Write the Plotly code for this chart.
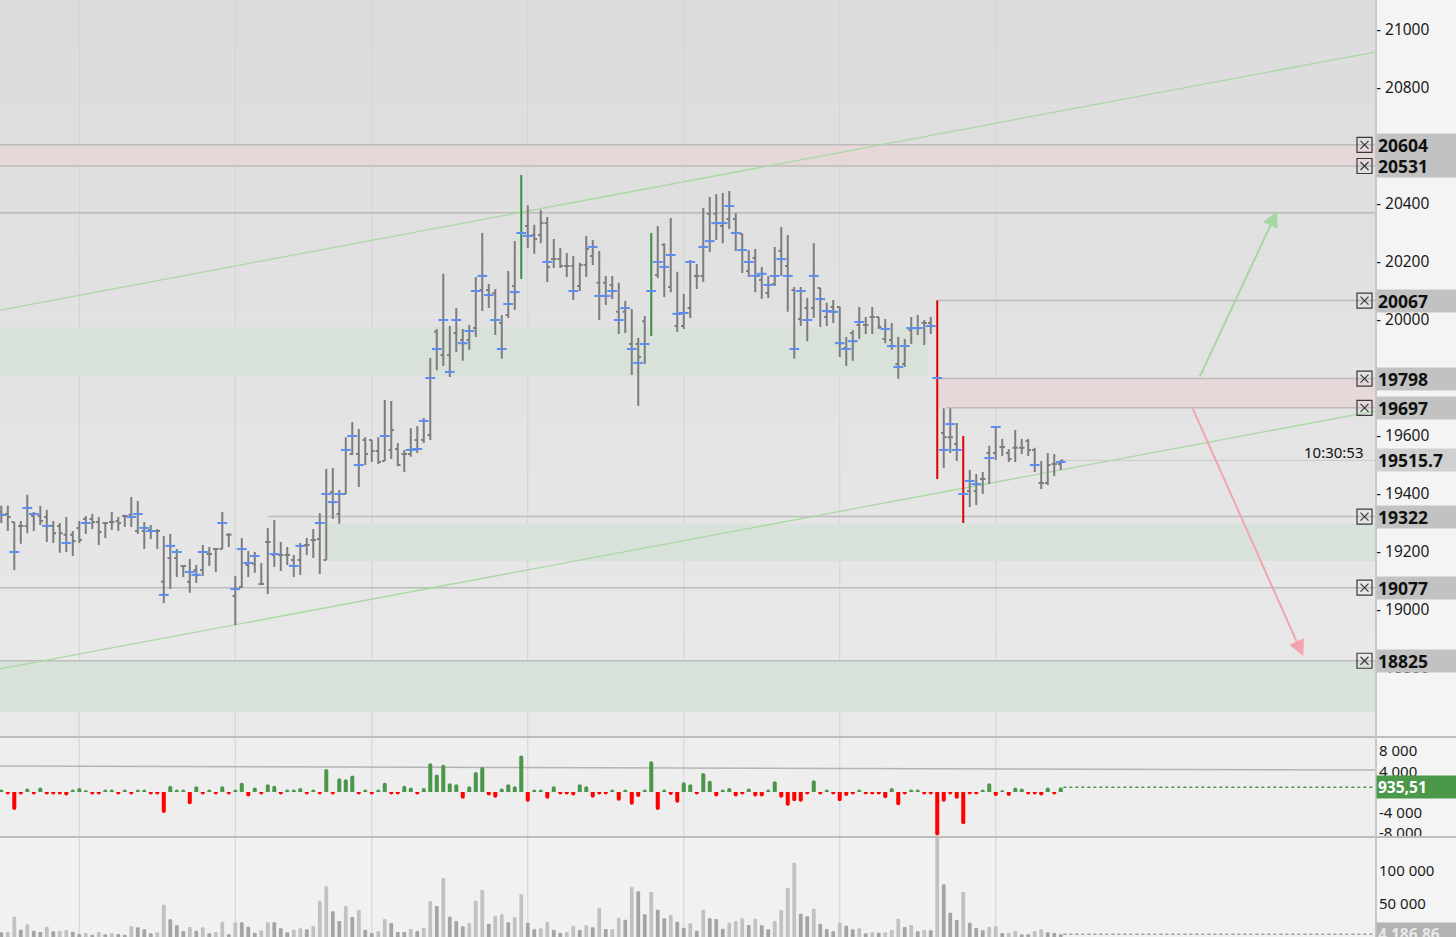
import plotly.graph_objects as go

# ---------------- data ----------------
highs = [
    19359, 19359, 19303, 19307, 19397, 19338, 19359, 19345, 19307, 19300,
    19321, 19272, 19307, 19324, 19331, 19321, 19303, 19338, 19321, 19328,
    19390, 19376, 19303, 19293, 19279, 19255, 19262, 19210, 19155, 19176,
    19155, 19224, 19217, 19210, 19338, 19265, 19117, 19248, 19203, 19200,
    19162, 19283, 19310, 19234, 19217, 19190, 19231, 19248, 19279, 19334,
    19486, 19490, 19414, 19596, 19648, 19624, 19596, 19586, 19596, 19724,
    19721, 19576, 19552, 19627, 19634, 19662, 19869, 19969, 20159, 19979,
    20041, 19969, 19983, 20148, 20300, 20124, 20107, 20017, 20169, 20272,
    20500, 20396, 20328, 20379, 20355, 20279, 20248, 20231, 20221, 20197,
    20290, 20276, 20238, 20152, 20152, 20128, 20066, 20038, 19938, 20014,
    20300, 20324, 20265, 20352, 20166, 20090, 20207, 20193, 20386, 20424,
    20434, 20438, 20445, 20369, 20297, 20241, 20245, 20183, 20152, 20252,
    20321, 20293, 20114, 20114, 20076, 20265, 20110, 20059, 20069, 20045,
    19941, 19965, 20045, 20010, 20045, 20010, 20003, 19990, 19941, 19934,
    20010, 20017, 20000, 20010, 20067, 19696, 19696, 19645, 19600, 19483,
    19469, 19476, 19566, 19634, 19590, 19555, 19621, 19590, 19590, 19559,
    19514, 19541, 19538, 19517]

lows = [
    19300, 19272, 19138, 19228, 19265, 19272, 19293, 19234, 19231, 19197,
    19200, 19186, 19231, 19262, 19279, 19224, 19248, 19276, 19272, 19286,
    19286, 19262, 19210, 19245, 19210, 19024, 19072, 19114, 19114, 19059,
    19093, 19117, 19152, 19131, 19210, 19217, 18948, 19076, 19114, 19128,
    19086, 19055, 19148, 19134, 19155, 19114, 19121, 19190, 19179, 19124,
    19172, 19314, 19297, 19400, 19534, 19424, 19500, 19510, 19503, 19514,
    19521, 19496, 19476, 19528, 19541, 19576, 19586, 19827, 19841, 19803,
    19890, 19859, 19897, 19941, 20031, 20041, 19948, 19866, 20007, 20034,
    20141, 20248, 20228, 20265, 20131, 20179, 20179, 20148, 20069, 20100,
    20148, 20190, 20000, 20052, 20072, 19952, 19955, 19810, 19703, 19848,
    19945, 20145, 20079, 20096, 19959, 19969, 20007, 20107, 20131, 20234,
    20276, 20265, 20314, 20238, 20162, 20148, 20096, 20072, 20076, 20117,
    20152, 20028, 19866, 19979, 19927, 20007, 19976, 19979, 19990, 19872,
    19841, 19859, 19934, 19952, 19952, 19969, 19920, 19897, 19797, 19838,
    19917, 19948, 19914, 19952, 19452, 19490, 19541, 19514, 19300, 19355,
    19362, 19400, 19434, 19517, 19531, 19510, 19510, 19538, 19531, 19476,
    19417, 19431, 19462, 19483]

opens = [
    19338, 19331, 19303, 19290, 19290, 19324, 19324, 19321, 19290, 19290,
    19259, 19259, 19283, 19314, 19314, 19303, 19300, 19303, 19307, 19324,
    19328, 19272, 19272, 19276, 19272, 19097, 19179, 19179, 19152, 19097,
    19138, 19138, 19193, 19210, 19210, 19259, 19048, 19079, 19155, 19159,
    19090, 19234, 19190, 19190, 19190, 19172, 19172, 19224, 19241, 19245,
    19172, 19407, 19331, 19400, 19538, 19538, 19586, 19586, 19548, 19514,
    19552, 19555, 19538, 19538, 19586, 19586, 19603, 19959, 19879, 19879,
    19955, 19931, 19931, 19972, 20103, 20103, 20093, 19990, 20017, 20117,
    20214, 20324, 20293, 20293, 20334, 20210, 20210, 20186, 20186, 20117,
    20190, 20221, 20128, 20128, 20121, 20028, 20028, 19917, 19917, 19996,
    19996, 20155, 20259, 20114, 19979, 19979, 20041, 20152, 20152, 20366,
    20366, 20324, 20348, 20348, 20297, 20169, 20214, 20138, 20093, 20124,
    20238, 20186, 20103, 20003, 20041, 20041, 20110, 20010, 20045, 20045,
    19903, 19955, 19983, 19983, 20010, 20010, 19934, 19931, 19848, 19848,
    19965, 19972, 19990, 19990, 19990, 19610, 19596, 19572, 19572, 19410,
    19410, 19452, 19541, 19541, 19562, 19541, 19559, 19559, 19583, 19552,
    19438, 19438, 19503, 19503]

closes = [
    19328, 19321, 19200, 19290, 19352, 19331, 19307, 19290, 19265, 19265,
    19231, 19238, 19241, 19300, 19303, 19269, 19300, 19303, 19300, 19324,
    19321, 19331, 19283, 19272, 19272, 19052, 19221, 19200, 19152, 19131,
    19121, 19200, 19193, 19210, 19300, 19259, 19072, 19210, 19162, 19186,
    19090, 19234, 19193, 19190, 19190, 19152, 19221, 19224, 19241, 19300,
    19400, 19372, 19400, 19552, 19600, 19500, 19538, 19548, 19510, 19600,
    19621, 19500, 19538, 19552, 19555, 19652, 19800, 19900, 20000, 19821,
    20000, 19920, 19962, 20100, 20152, 20086, 20000, 19900, 20055, 20096,
    20324, 20290, 20279, 20334, 20183, 20210, 20186, 20186, 20100, 20190,
    20245, 20252, 20083, 20083, 20100, 20000, 20041, 19900, 19872, 19917,
    20228, 20200, 20183, 20224, 20021, 20024, 20200, 20152, 20252, 20272,
    20334, 20334, 20393, 20300, 20241, 20200, 20152, 20159, 20121, 20152,
    20210, 20152, 19900, 20100, 20000, 20152, 20072, 20031, 20028, 19920,
    19900, 19927, 19993, 19983, 20010, 19976, 19969, 19910, 19838, 19910,
    19972, 19972, 19990, 19979, 19610, 19596, 19596, 19552, 19400, 19445,
    19434, 19452, 19524, 19631, 19562, 19521, 19559, 19559, 19552, 19500,
    19438, 19500, 19503, 19515.7]

poc = [
    19328, None, 19200, None, 19352, 19331, None, 19290, None, None,
    19231, None, None, 19300, None, None, None, None, None, None,
    19321, 19331, 19283, 19272, None, 19052, 19221, 19200, None, 19131,
    19121, 19200, None, None, 19300, None, 19072, 19210, 19162, 19186,
    None, None, 19193, None, None, 19152, 19221, None, None, 19300,
    19400, 19372, 19400, 19552, 19600, 19500, None, None, None, 19600,
    None, None, None, 19552, 19555, 19652, 19800, 19900, 20000, 19821,
    20000, 19920, 19962, 20100, 20152, 20086, 20000, 19900, 20055, 20096,
    20300, 20290, None, None, 20200, None, None, None, 20100, None,
    None, 20252, 20083, 20083, 20100, 20000, 20041, 19900, 19852, 19917,
    20100, 20200, 20183, 20224, 20021, 20024, 20200, None, 20252, 20272,
    20334, 20334, 20393, 20300, 20241, 20200, 20152, 20159, 20121, 20152,
    20210, 20152, 19900, 20100, 20000, 20152, 20072, 20031, 20028, 19920,
    19900, 19927, 19993, None, None, None, 19969, 19910, 19838, 19910,
    19972, 19972, None, 19979, 19800, 19552, 19641, 19552, 19400, 19445,
    19434, None, 19524, 19631, None, None, None, None, None, 19500,
    None, None, None, 19510]

delta = [
    500, -500, -3500, -500, 700, -500, 900, -500, -500, -500,
    -700, 500, 800, 400, -500, -500, 500, 500, -500, 500,
    -500, 500, 500, -500, -500, -4100, 1200, 500, 500, -2400,
    1100, -500, 500, -500, 1100, -500, 500, 1800, -900, 900,
    -500, 1500, 1200, -500, 500, 500, 800, -500, 500, -500,
    4500, -500, 2700, 2500, 3200, -500, 500, -500, 500, 1800,
    -500, -500, 1200, 900, -500, 800, 5600, 3400, 5300, 1700,
    1500, -1300, 1100, 3900, 4900, -700, -1100, 700, 1500, 1100,
    7100, -1900, 500, 500, -1300, 1100, -500, -500, -700, 1500,
    1100, -1100, -500, -500, 500, -1700, 500, -2500, -1000, 500,
    6000, -3500, 500, -600, -2100, 1900, 1500, -500, 3700, 2200,
    -900, 500, 800, -900, -500, 700, -900, -900, 500, 2100,
    -1100, -2700, -1800, -1900, -500, 2300, -500, 500, -500, -1800,
    -800, -500, 500, -500, -500, -500, -1200, 800, -2600, -500,
    500, 500, -500, -500, -8500, -1900, -500, -1300, -6300, -500,
    -500, 500, 1700, -800, 400, -800, 900, 700, -500, -500,
    -700, 900, -500, 935.51]

volume = [
    7070, 7575, 30800, 11110, 19190, 9595, 7575, 15655, 8585, 9090,
    10605, 8080, 4545, 6060, 3535, 7575, 4040, 5555, 4545, 3535,
    16160, 14645, 11615, 5555, 7070, 48985, 26765, 17675, 9090, 15150,
    9595, 14645, 5555, 7070, 23230, 4040, 22220, 22220, 15655, 6565,
    10100, 22220, 22220, 13130, 7070, 11110, 13130, 11615, 16665, 55045,
    76760, 38885, 24240, 46965, 30300, 40905, 11110, 6060, 8585, 27270,
    21210, 7575, 7575, 12120, 9090, 13635, 54035, 46965, 89385, 30805,
    24240, 16160, 21210, 55045, 71205, 20200, 32320, 34340, 22220, 29795,
    64640, 21715, 11615, 13130, 23230, 11110, 6565, 7575, 17170, 10605,
    17675, 14645, 44440, 12120, 12300, 29290, 26260, 76255, 69185, 34340,
    68175, 41410, 28280, 33835, 23230, 14140, 20705, 9595, 41410, 28280,
    27270, 12625, 21715, 24240, 28280, 18180, 27775, 17675, 11615, 24240,
    40905, 74740, 112615, 35350, 31310, 42925, 20200, 12120, 8585, 21715,
    17170, 11615, 13130, 5555, 7070, 6565, 7070, 10605, 27775, 15150,
    18180, 8585, 10605, 10100, 155000, 79790, 36865, 25755, 68175, 21715,
    13635, 10100, 15655, 16665, 6060, 6565, 9595, 4040, 4040, 9090,
    11615, 7070, 6060, 4186.86]

up_highlight = [80, 100]
down_highlight = [144, 148]

levels = [20604, 20531, 20067, 19798, 19697, 19322, 19077, 18825]
level_start = [-0.2, -0.2, 144, 144, 145.3, 41, -0.2, -0.2]
plain_level = 20370
last_price = 19515.7
last_time = "10:30:53"
last_delta_text = "935,51"
last_volume_text = "4 186,86"

red_zones = [(-0.2, 211.35, 20531, 20604), (144, 211.35, 19697, 19798)]
green_zones = [(-0.2, 142.6, 19807, 19976), (49.5, 211.35, 19169, 19297),
               (-0.2, 211.35, 18648, 18825)]
channel_upper = ((-0.2, 20034), (211.35, 20924))
channel_lower = ((-0.2, 18797), (211.35, 19686))
arrow_up = ((184.3, 19800), (196.3, 20376))
arrow_down = ((183.2, 19700), (200.3, 18841))
delta_ref_line = ((-0.2, 5070), (211.35, 4290))
grid_idx = [12, 36, 57, 81, 105, 129, 153]

main_ticks = list(range(18800, 21001, 200))
delta_ticks = [-8000, -4000, 4000, 8000]
vol_ticks = [50000, 100000]

# ---------------- layout constants ----------------
W, H = 1456, 937
PLOT_R = 1375
X_RANGE = [-0.2, 211.35]
Y_MAIN = [18562, 21103.4]
Y_DELTA = [-8780, 10730]
Y_VOL = [0, 151500]
PPX = (Y_MAIN[1] - Y_MAIN[0]) / 737.0  # price per pixel on main pane


def px(v):
    return v / W


def fmt_space(v):
    s = f"{abs(v):,}".replace(",", " ")
    return s if v >= 0 else "-" + s


n = len(closes)
idx = list(range(n))
assert all(len(a) == n for a in (highs, lows, opens, poc, delta, volume))

fig = go.Figure()


def ohlc_trace(sel, color):
    xs = sorted(sel)
    md = min((b - a for a, b in zip(xs, xs[1:])), default=1)
    return go.Ohlc(
        x=xs, open=[opens[i] for i in xs], high=[highs[i] for i in xs],
        low=[lows[i] for i in xs], close=[closes[i] for i in xs],
        increasing=dict(line=dict(color=color, width=2)),
        decreasing=dict(line=dict(color=color, width=2)),
        tickwidth=min(0.5, 0.42 / md), hoverinfo="skip", showlegend=False,
        xaxis="x", yaxis="y")


special = set(up_highlight) | set(down_highlight)
fig.add_trace(ohlc_trace([i for i in idx if i not in special], "#7d7d7d"))
fig.add_trace(ohlc_trace(up_highlight, "#3a8d3d"))
fig.add_trace(ohlc_trace(down_highlight, "#e00000"))

fig.add_trace(go.Scatter(
    x=idx, y=poc, mode="markers",
    marker=dict(symbol="line-ew", size=7, line=dict(width=2, color="#5b8ef0")),
    hoverinfo="skip", showlegend=False, yaxis="y"))

# ---------- delta ----------
fig.add_trace(go.Bar(
    x=idx, y=delta, width=0.62, yaxis="y2",
    marker=dict(color=["#4a964a" if d >= 0 else "#ff0000" for d in delta],
                line=dict(width=0), cornerradius=2),
    hoverinfo="skip", showlegend=False))
fig.add_trace(go.Scatter(
    x=[idx[-1] + 0.4, X_RANGE[1]], y=[delta[-1], delta[-1]], mode="lines",
    line=dict(color="#4a964a", width=1.5, dash="dot"), yaxis="y2",
    hoverinfo="skip", showlegend=False))

# ---------- volume ----------
vcolors = ["#a4a4a4"] + ["#c1c1c1" if volume[i] > volume[i - 1] else "#a4a4a4" for i in range(1, n)]
fig.add_trace(go.Bar(
    x=idx, y=volume, width=0.58, yaxis="y3",
    marker=dict(color=vcolors, line=dict(width=0), cornerradius=2),
    hoverinfo="skip", showlegend=False))
fig.add_trace(go.Scatter(
    x=[idx[-1] + 0.4, X_RANGE[1]], y=[volume[-1], volume[-1]], mode="lines",
    line=dict(color="#a0a0a0", width=1.5, dash="dot"), yaxis="y3",
    hoverinfo="skip", showlegend=False))

shapes = []
main_top, main_bot = 1.0, 200 / H
nb = 14
for k in range(nb):
    c = int(round(220 + (233 - 220) * k / (nb - 1)))
    y1 = main_top - (main_top - main_bot) * k / nb
    y0 = main_top - (main_top - main_bot) * (k + 1) / nb
    shapes.append(dict(type="rect", xref="paper", yref="paper", x0=0, x1=px(PLOT_R),
                       y0=y0, y1=y1, fillcolor=f"rgb({c},{c},{c})", line=dict(width=0),
                       layer="below"))
shapes.append(dict(type="rect", xref="paper", yref="paper", x0=0, x1=px(PLOT_R),
                   y0=100 / H, y1=200 / H, fillcolor="#eeeeee", line=dict(width=0), layer="below"))
shapes.append(dict(type="rect", xref="paper", yref="paper", x0=0, x1=px(PLOT_R),
                   y0=0, y1=100 / H, fillcolor="#f1f1f1", line=dict(width=0), layer="below"))

for g in grid_idx:
    shapes.append(dict(type="line", xref="x", yref="paper", x0=g, x1=g, y0=0, y1=1,
                       line=dict(color="#d3d3d3", width=1), layer="below"))

for x0, x1, y0, y1 in green_zones:
    shapes.append(dict(type="rect", xref="x", yref="y", x0=x0, x1=x1, y0=y0, y1=y1,
                       fillcolor="#d8e2da", line=dict(width=0), layer="below"))
for x0, x1, y0, y1 in red_zones:
    shapes.append(dict(type="rect", xref="x", yref="y", x0=x0, x1=x1, y0=y0, y1=y1,
                       fillcolor="#e6d7d9", line=dict(width=0), layer="below"))

for lv, xs in zip(levels, level_start):
    shapes.append(dict(type="line", xref="x", yref="y", x0=xs, x1=X_RANGE[1], y0=lv, y1=lv,
                       line=dict(color="#bcbcbc", width=1.5), layer="below"))
shapes.append(dict(type="line", xref="x", yref="y", x0=X_RANGE[0], x1=X_RANGE[1],
                   y0=plain_level, y1=plain_level, line=dict(color="#c0c0c0", width=2), layer="below"))
shapes.append(dict(type="line", xref="x", yref="y", x0=idx[-1] + 0.4, x1=X_RANGE[1],
                   y0=last_price, y1=last_price, line=dict(color="#cbcbcb", width=1), layer="below"))

for (a, b) in (channel_upper, channel_lower):
    shapes.append(dict(type="line", xref="x", yref="y", x0=a[0], y0=a[1], x1=b[0], y1=b[1],
                       line=dict(color="#a9d9a2", width=1.3), layer="below"))

shapes.append(dict(type="line", xref="x", yref="y2", x0=delta_ref_line[0][0], y0=delta_ref_line[0][1],
                   x1=delta_ref_line[1][0], y1=delta_ref_line[1][1],
                   line=dict(color="#b4b4b4", width=1.5), layer="below"))

for yy in (200 / H, 100 / H):
    shapes.append(dict(type="line", xref="paper", yref="paper", x0=0, x1=1, y0=yy, y1=yy,
                       line=dict(color="#bdbdbd", width=2), layer="above"))
shapes.append(dict(type="line", xref="paper", yref="paper", x0=px(PLOT_R + 1), x1=px(PLOT_R + 1),
                   y0=0, y1=1, line=dict(color="#c8c8c8", width=2), layer="above"))

half = 7.5 * PPX
ins = 4.0 * PPX
for lv in levels:
    shapes.append(dict(type="rect", xref="paper", yref="y", x0=px(1357), x1=px(1372),
                       y0=lv - half, y1=lv + half, line=dict(color="#3a3a3a", width=1.2),
                       fillcolor="rgba(0,0,0,0)", layer="above"))
    shapes.append(dict(type="line", xref="paper", yref="y", x0=px(1360.5), x1=px(1368.5),
                       y0=lv - ins, y1=lv + ins, line=dict(color="#3a3a3a", width=1.2), layer="above"))
    shapes.append(dict(type="line", xref="paper", yref="y", x0=px(1360.5), x1=px(1368.5),
                       y0=lv + ins, y1=lv - ins, line=dict(color="#3a3a3a", width=1.2), layer="above"))

annotations = []
FONT = "Noto Sans"
for lv in levels:
    annotations.append(dict(xref="paper", yref="y", x=px(PLOT_R + 1), y=lv, xanchor="left",
                            yanchor="middle", text=f"<b>{lv}</b>", showarrow=False,
                            bgcolor="#c2c2c2", width=78, height=20, borderpad=1, align="left",
                            font=dict(family=FONT, size=17.5, color="#111111")))
annotations.append(dict(xref="paper", yref="y", x=px(PLOT_R + 1), y=last_price, xanchor="left",
                        yanchor="middle", text=f"<b>{last_price}</b>", showarrow=False,
                        bgcolor="#d0d0d0", width=78, height=20, borderpad=1, align="left",
                        font=dict(family=FONT, size=17.5, color="#111111")))
annotations.append(dict(xref="paper", yref="y", x=px(1366), y=last_price + 8.5 * PPX,
                        xanchor="right", yanchor="middle", text=last_time, showarrow=False,
                        font=dict(family=FONT, size=15, color="#111111")))
annotations.append(dict(xref="paper", yref="y2", x=px(PLOT_R + 1), y=delta[-1], xanchor="left",
                        yanchor="middle", text=f"<b>{last_delta_text}</b>", showarrow=False,
                        bgcolor="#4b984b", width=78, height=20, borderpad=1, align="left",
                        font=dict(family=FONT, size=15.5, color="#ffffff")))
annotations.append(dict(xref="paper", yref="y3", x=px(PLOT_R + 1), y=volume[-1], xanchor="left",
                        yanchor="middle", text=f"<b>{last_volume_text}</b>", showarrow=False,
                        bgcolor="#b3b3b3", width=78, height=20, borderpad=1, align="left",
                        font=dict(family=FONT, size=15.5, color="#e8e8e8")))
for (tail, head), col in ((arrow_up, "#a6d7a0"), (arrow_down, "#f2a5ae")):
    annotations.append(dict(xref="x", yref="y", axref="x", ayref="y", x=head[0], y=head[1],
                            ax=tail[0], ay=tail[1], text="", showarrow=True, arrowhead=2,
                            arrowsize=1.6, arrowwidth=2, arrowcolor=col, standoff=0))

tickfont = dict(family=FONT, size=15.5, color="#1a1a1a")
small_font = dict(family=FONT, size=15, color="#1a1a1a")
fig.update_layout(
    width=W, height=H, autosize=False,
    margin=dict(l=0, r=0, t=0, b=0, pad=0, autoexpand=False),
    paper_bgcolor="#f4f4f4", plot_bgcolor="rgba(0,0,0,0)",
    showlegend=False, hovermode=False, barmode="overlay",
    xaxis=dict(domain=[0, px(PLOT_R)], range=X_RANGE, visible=False, fixedrange=True,
               automargin=False, rangeslider=dict(visible=False)),
    yaxis=dict(domain=[200 / H, 1], range=Y_MAIN, side="right", anchor="x", showgrid=False,
               zeroline=False, showline=False, ticks="", tickvals=main_ticks, automargin=False,
               ticktext=["- " + str(v) for v in main_ticks], tickfont=tickfont, fixedrange=True),
    yaxis2=dict(domain=[100 / H, 200 / H], range=Y_DELTA, side="right", anchor="x",
                showgrid=False, zeroline=False, showline=False, ticks="", tickvals=delta_ticks,
                ticktext=[fmt_space(v) for v in delta_ticks], ticklabelstandoff=3,
                automargin=False, tickfont=small_font, fixedrange=True),
    yaxis3=dict(domain=[0, 100 / H], range=Y_VOL, side="right", anchor="x", showgrid=False,
                zeroline=False, showline=False, ticks="", tickvals=vol_ticks,
                ticktext=[fmt_space(v) for v in vol_ticks], ticklabelstandoff=3,
                automargin=False, tickfont=small_font, fixedrange=True),
    shapes=shapes, annotations=annotations,
)

post = (
    "var st=document.createElement('style');"
    "st.textContent='html,body{margin:0!important;padding:0!important;overflow:hidden!important;}';"
    "document.head.appendChild(st);"
)
fig.write_html("out.html", config={"displayModeBar": False, "staticPlot": True},
               post_script=post)
